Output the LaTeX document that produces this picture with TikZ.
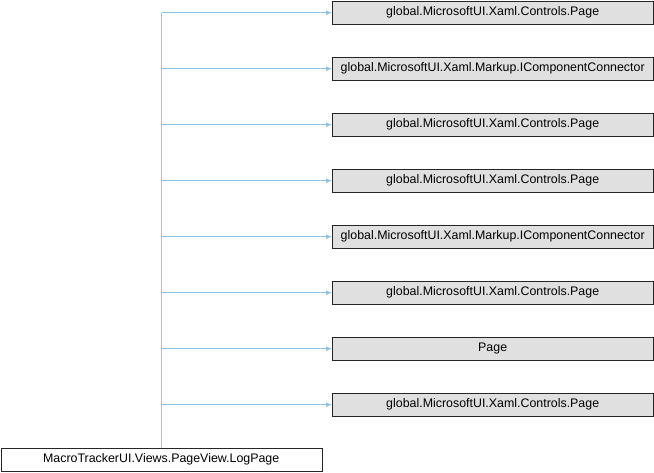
\documentclass[tikz,border=0pt]{standalone}
\usepackage{fontspec}
\setmainfont{Liberation Sans}
\usetikzlibrary{arrows.meta}
\definecolor{edgeblue}{RGB}{140,198,230}
\definecolor{boxgray}{RGB}{224,224,224}
\tikzset{
  base/.style={draw=black!85, fill=boxgray, minimum width=321pt, minimum height=23pt, inner sep=0pt, font=\fontsize{12.4pt}{14pt}\selectfont, anchor=north west},
  src/.style={base, fill=white},
  edge/.style={draw=edgeblue, line width=0.8pt, -{Latex[length=6pt,width=5pt]}},
  trunk/.style={draw=edgeblue, line width=0.8pt}
}
\begin{document}
\begin{tikzpicture}[x=1pt,y=-1pt]
\useasboundingbox (0,0) rectangle (654,472);
\node[src] (s) at (0.5,448) {MacroTrackerUI.Views.PageView.LogPage};
\node[base] (t1) at (332,1) {global.MicrosoftUI.Xaml.Controls.Page};
\node[base] (t2) at (332,57) {global.MicrosoftUI.Xaml.Markup.IComponentConnector};
\node[base] (t3) at (332,113) {global.MicrosoftUI.Xaml.Controls.Page};
\node[base] (t4) at (332,169) {global.MicrosoftUI.Xaml.Controls.Page};
\node[base] (t5) at (332,225) {global.MicrosoftUI.Xaml.Markup.IComponentConnector};
\node[base] (t6) at (332,281) {global.MicrosoftUI.Xaml.Controls.Page};
\node[base] (t7) at (332,337) {Page};
\node[base] (t8) at (332,393) {global.MicrosoftUI.Xaml.Controls.Page};
\coordinate (top) at (161.5,12.5);
\draw[trunk] (s.north -| top) -- (top);
\foreach \i in {1,...,8} {
  \draw[edge] (t\i.west -| top) -- (t\i.west);
}
\end{tikzpicture}
\end{document}
